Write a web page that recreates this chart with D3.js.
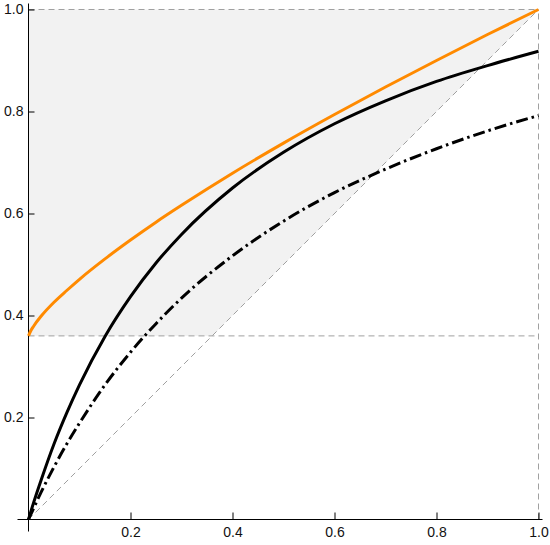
<!DOCTYPE html>
<html>
<head>
<meta charset="utf-8">
<script src="https://cdn.jsdelivr.net/npm/d3@7"></script>
<style>
  html, body { margin: 0; padding: 0; background: #fff; }
  text { font-family: "Liberation Sans", Arial, sans-serif; }
</style>
</head>
<body>
<div id="chart"></div>
<script>
// sample x positions and the three curves
const xValues     = [0, 0.005, 0.01, 0.025, 0.05, 0.075, 0.1, 0.15, 0.2, 0.25, 0.3, 0.4, 0.5, 0.6, 0.7, 0.8, 0.9, 1.0];
const upperCurve  = [0.36, 0.371, 0.379, 0.399, 0.426, 0.449, 0.471, 0.511, 0.548, 0.583, 0.616, 0.679, 0.738, 0.794, 0.848, 0.900, 0.951, 1.0];
const solidCurve  = [0, 0.017, 0.033, 0.078, 0.148, 0.209, 0.264, 0.359, 0.437, 0.503, 0.559, 0.650, 0.720, 0.776, 0.821, 0.859, 0.890, 0.918];
const dashedCurve = [0, 0.011, 0.022, 0.054, 0.103, 0.148, 0.189, 0.264, 0.328, 0.384, 0.434, 0.517, 0.585, 0.641, 0.687, 0.727, 0.762, 0.792];

const lowerBound = 0.36;
const majorTicks = [0.2, 0.4, 0.6, 0.8, 1.0];
const minorTicks = d3.range(1, 21).map(i => i * 0.05).filter(v => !majorTicks.some(m => Math.abs(m - v) < 1e-9));

const width = 550, height = 545;

const x = d3.scaleLinear().domain([0, 1]).range([28.5, 538.5]);
const y = d3.scaleLinear().domain([0, 1]).range([519.5, 9.5]);

const svg = d3.select('#chart')
  .append('svg')
  .attr('width', width)
  .attr('height', height);

// shaded region between the diagonal, the top and the lower bound
const shade = [[0, lowerBound], [0, 1], [1, 1], [lowerBound, lowerBound]];
svg.append('path')
  .attr('d', d3.line().x(d => x(d[0])).y(d => y(d[1]))(shade) + 'Z')
  .attr('fill', '#f2f2f2');

// dashed guide lines
const guides = [
  [[0, 1], [1, 1]],
  [[1, 0], [1, 1]],
  [[0, lowerBound], [1, lowerBound]],
  [[0, 0], [1, 1]]
];
svg.append('g')
  .selectAll('path')
  .data(guides)
  .enter()
  .append('path')
  .attr('d', d3.line().x(d => x(d[0])).y(d => y(d[1])))
  .attr('fill', 'none')
  .attr('stroke', '#a0a0a0')
  .attr('stroke-width', 1)
  .attr('stroke-dasharray', '6,4');

// axes
const xAxisG = svg.append('g').attr('transform', `translate(0,${y(0)})`);
xAxisG.call(d3.axisBottom(x).tickValues(minorTicks).tickSize(-4).tickFormat(''));
xAxisG.call(d3.axisBottom(x).tickValues(majorTicks).tickSizeInner(-7).tickSizeOuter(0).tickPadding(8).tickFormat(d3.format('.1f')));

const yAxisG = svg.append('g').attr('transform', `translate(${x(0)},0)`);
yAxisG.call(d3.axisLeft(y).tickValues(minorTicks).tickSize(-4).tickFormat(''));
yAxisG.call(d3.axisLeft(y).tickValues(majorTicks).tickSizeInner(-6).tickSizeOuter(0).tickPadding(5).tickFormat(d3.format('.1f')));

svg.selectAll('.domain').remove();
svg.selectAll('.tick line').attr('stroke', '#000');
svg.selectAll('.tick text').attr('font-size', 14).attr('fill', '#111');

svg.append('line')
  .attr('x1', x(0) - 11).attr('x2', x(1) + 4)
  .attr('y1', y(0)).attr('y2', y(0))
  .attr('stroke', '#000');
svg.append('line')
  .attr('x1', x(0)).attr('x2', x(0))
  .attr('y1', y(0) + 12).attr('y2', y(1) - 6)
  .attr('stroke', '#000');

// curves
const curveLine = vals => d3.line()
  .x((d, i) => x(xValues[i]))
  .y(d => y(d))
  .curve(d3.curveMonotoneX)(vals);

svg.append('path')
  .attr('d', curveLine(dashedCurve))
  .attr('fill', 'none')
  .attr('stroke', '#000')
  .attr('stroke-width', 3)
  .attr('stroke-dasharray', '12,4,2.5,4');

svg.append('path')
  .attr('d', curveLine(solidCurve))
  .attr('fill', 'none')
  .attr('stroke', '#000')
  .attr('stroke-width', 3);

svg.append('path')
  .attr('d', curveLine(upperCurve))
  .attr('fill', 'none')
  .attr('stroke', '#ff8a00')
  .attr('stroke-width', 3);
</script>
</body>
</html>
